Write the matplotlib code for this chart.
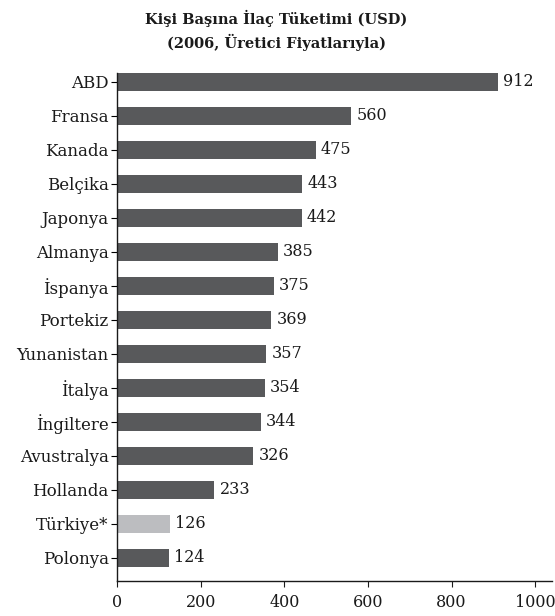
import matplotlib
matplotlib.use("Agg")
import matplotlib.pyplot as plt

countries = ["ABD", "Fransa", "Kanada", "Belçika", "Japonya", "Almanya", "İspanya",
             "Portekiz", "Yunanistan", "İtalya", "İngiltere", "Avustralya", "Hollanda",
             "Türkiye*", "Polonya"]
values = [912, 560, 475, 443, 442, 385, 375, 369, 357, 354, 344, 326, 233, 126, 124]
highlight = "Türkiye*"

dark = "#58595b"
light = "#bcbdc0"

plt.rcParams['font.family'] = ['DejaVu Serif']

fig = plt.figure(figsize=(5.55, 6.16), dpi=100)
ax = fig.add_axes([0.2108, 0.0568, 0.7838, 0.8247])

colors = [light if c == highlight else dark for c in countries]
ypos = list(range(len(countries)))
ax.barh(ypos, values, height=0.54, color=colors)

for y, v in zip(ypos, values):
  ax.text(v + 12, y, str(v), va='center', ha='left', fontsize=11.5, color='#1a1a1a')

ax.set_yticks(ypos)
ax.set_yticklabels(countries, fontsize=12, color='#1a1a1a')
ax.set_xticks([0, 200, 400, 600, 800, 1000])
ax.tick_params(axis='x', labelsize=11.5, colors='#1a1a1a', length=4, pad=5)
ax.tick_params(axis='y', length=4, pad=2)
ax.set_xlim(0, 1040)
ax.set_ylim(14.68, -0.26)

for s in ['top', 'right']:
  ax.spines[s].set_visible(False)
for s in ['left', 'bottom']:
  ax.spines[s].set_color('#1a1a1a')
  ax.spines[s].set_linewidth(1.0)

fig.suptitle("Kişi Başına İlaç Tüketimi (USD)\n(2006, Üretici Fiyatlarıyla)",
             x=0.498, y=0.984, fontsize=10.5, fontweight='bold', color='#1a1a1a',
             linespacing=1.5)

fig.savefig("out.png", dpi=100)
